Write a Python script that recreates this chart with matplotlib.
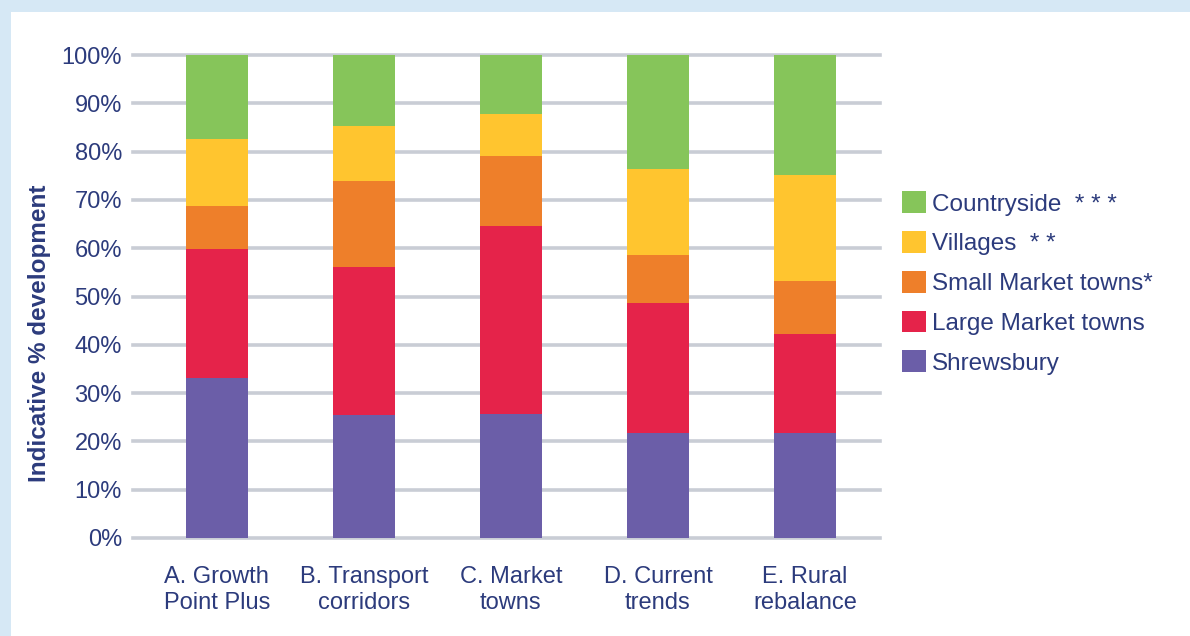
import matplotlib
matplotlib.use("Agg")
import matplotlib.pyplot as plt
from matplotlib.patches import Rectangle, Patch
import numpy as np

plt.rcParams['font.family'] = ['Liberation Sans', 'DejaVu Sans']

categories = ["A. Growth\nPoint Plus", "B. Transport\ncorridors", "C. Market\ntowns",
              "D. Current\ntrends", "E. Rural\nrebalance"]
series_names = ["Shrewsbury", "Large Market towns", "Small Market towns*",
                "Villages  * *", "Countryside  * * *"]
shrewsbury = [33.1, 25.4, 25.7, 21.8, 21.8]
large_market = [26.8, 30.7, 38.8, 26.9, 20.5]
small_market = [8.9, 17.9, 14.5, 9.9, 11.0]
villages = [13.8, 11.2, 8.7, 17.9, 21.8]
countryside = [17.4, 14.8, 12.3, 23.5, 24.9]
yticks = [0, 10, 20, 30, 40, 50, 60, 70, 80, 90, 100]
ytick_labels = [f"{v}%" for v in yticks]

colors = ["#6b5ea8", "#e5234a", "#ee7f2a", "#ffc52f", "#86c55a"]
text_color = "#2c3b7c"

fig = plt.figure(figsize=(11.9, 6.36), dpi=100)
fig.patch.set_facecolor("white")
# light blue frame (top and left)
fig.patches.append(Rectangle((0, 1 - 12/636), 1, 12/636, transform=fig.transFigure,
                             facecolor="#d6e8f5", edgecolor="none", zorder=0))
fig.patches.append(Rectangle((0, 0), 11/1190, 1, transform=fig.transFigure,
                             facecolor="#d6e8f5", edgecolor="none", zorder=0))

ax = fig.add_axes([133/1190, (636-538)/636, (880-133)/1190, (538-55)/636])
x = np.arange(len(categories))
data = [shrewsbury, large_market, small_market, villages, countryside]
bottom = np.zeros(len(categories))
handles = []
for vals, c, name in zip(data, colors, series_names):
    ax.bar(x, vals, bottom=bottom, width=0.42, color=c, edgecolor="none", zorder=3)
    bottom += np.array(vals)
    handles.append(Patch(facecolor=c, edgecolor="none", label=name))

ax.set_xlim(-0.57, 4.51)
ax.set_ylim(0, 100)
ax.set_yticks(yticks)
ax.set_yticklabels(ytick_labels)
ax.set_xticks(x)
ax.set_xticklabels(categories, linespacing=1.25)
ax.yaxis.grid(True, color="#c9cdd5", linewidth=2.6, zorder=0)
for gl in ax.get_ygridlines():
    gl.set_clip_on(False)
ax.set_axisbelow(True)
for s in ax.spines.values():
    s.set_visible(False)
ax.tick_params(axis="both", length=0, labelsize=17, labelcolor=text_color)
ax.tick_params(axis="y", pad=8)
ax.tick_params(axis="x", pad=20)

fig.text(40/1190, (636-333)/636, "Indicative % development", rotation=90,
         ha="center", va="center", fontsize=17.5, fontweight="bold", color=text_color)

leg = fig.legend(handles=handles[::-1], loc="center left",
                 bbox_to_anchor=(902/1190, (636-283)/636), frameon=False,
                 fontsize=17.5, handlelength=1.0, handleheight=1.0,
                 handletextpad=0.25, labelspacing=0.64, borderpad=0, borderaxespad=0)
for t in leg.get_texts():
    t.set_color(text_color)

fig.savefig("out.png", dpi=100, facecolor="white")
